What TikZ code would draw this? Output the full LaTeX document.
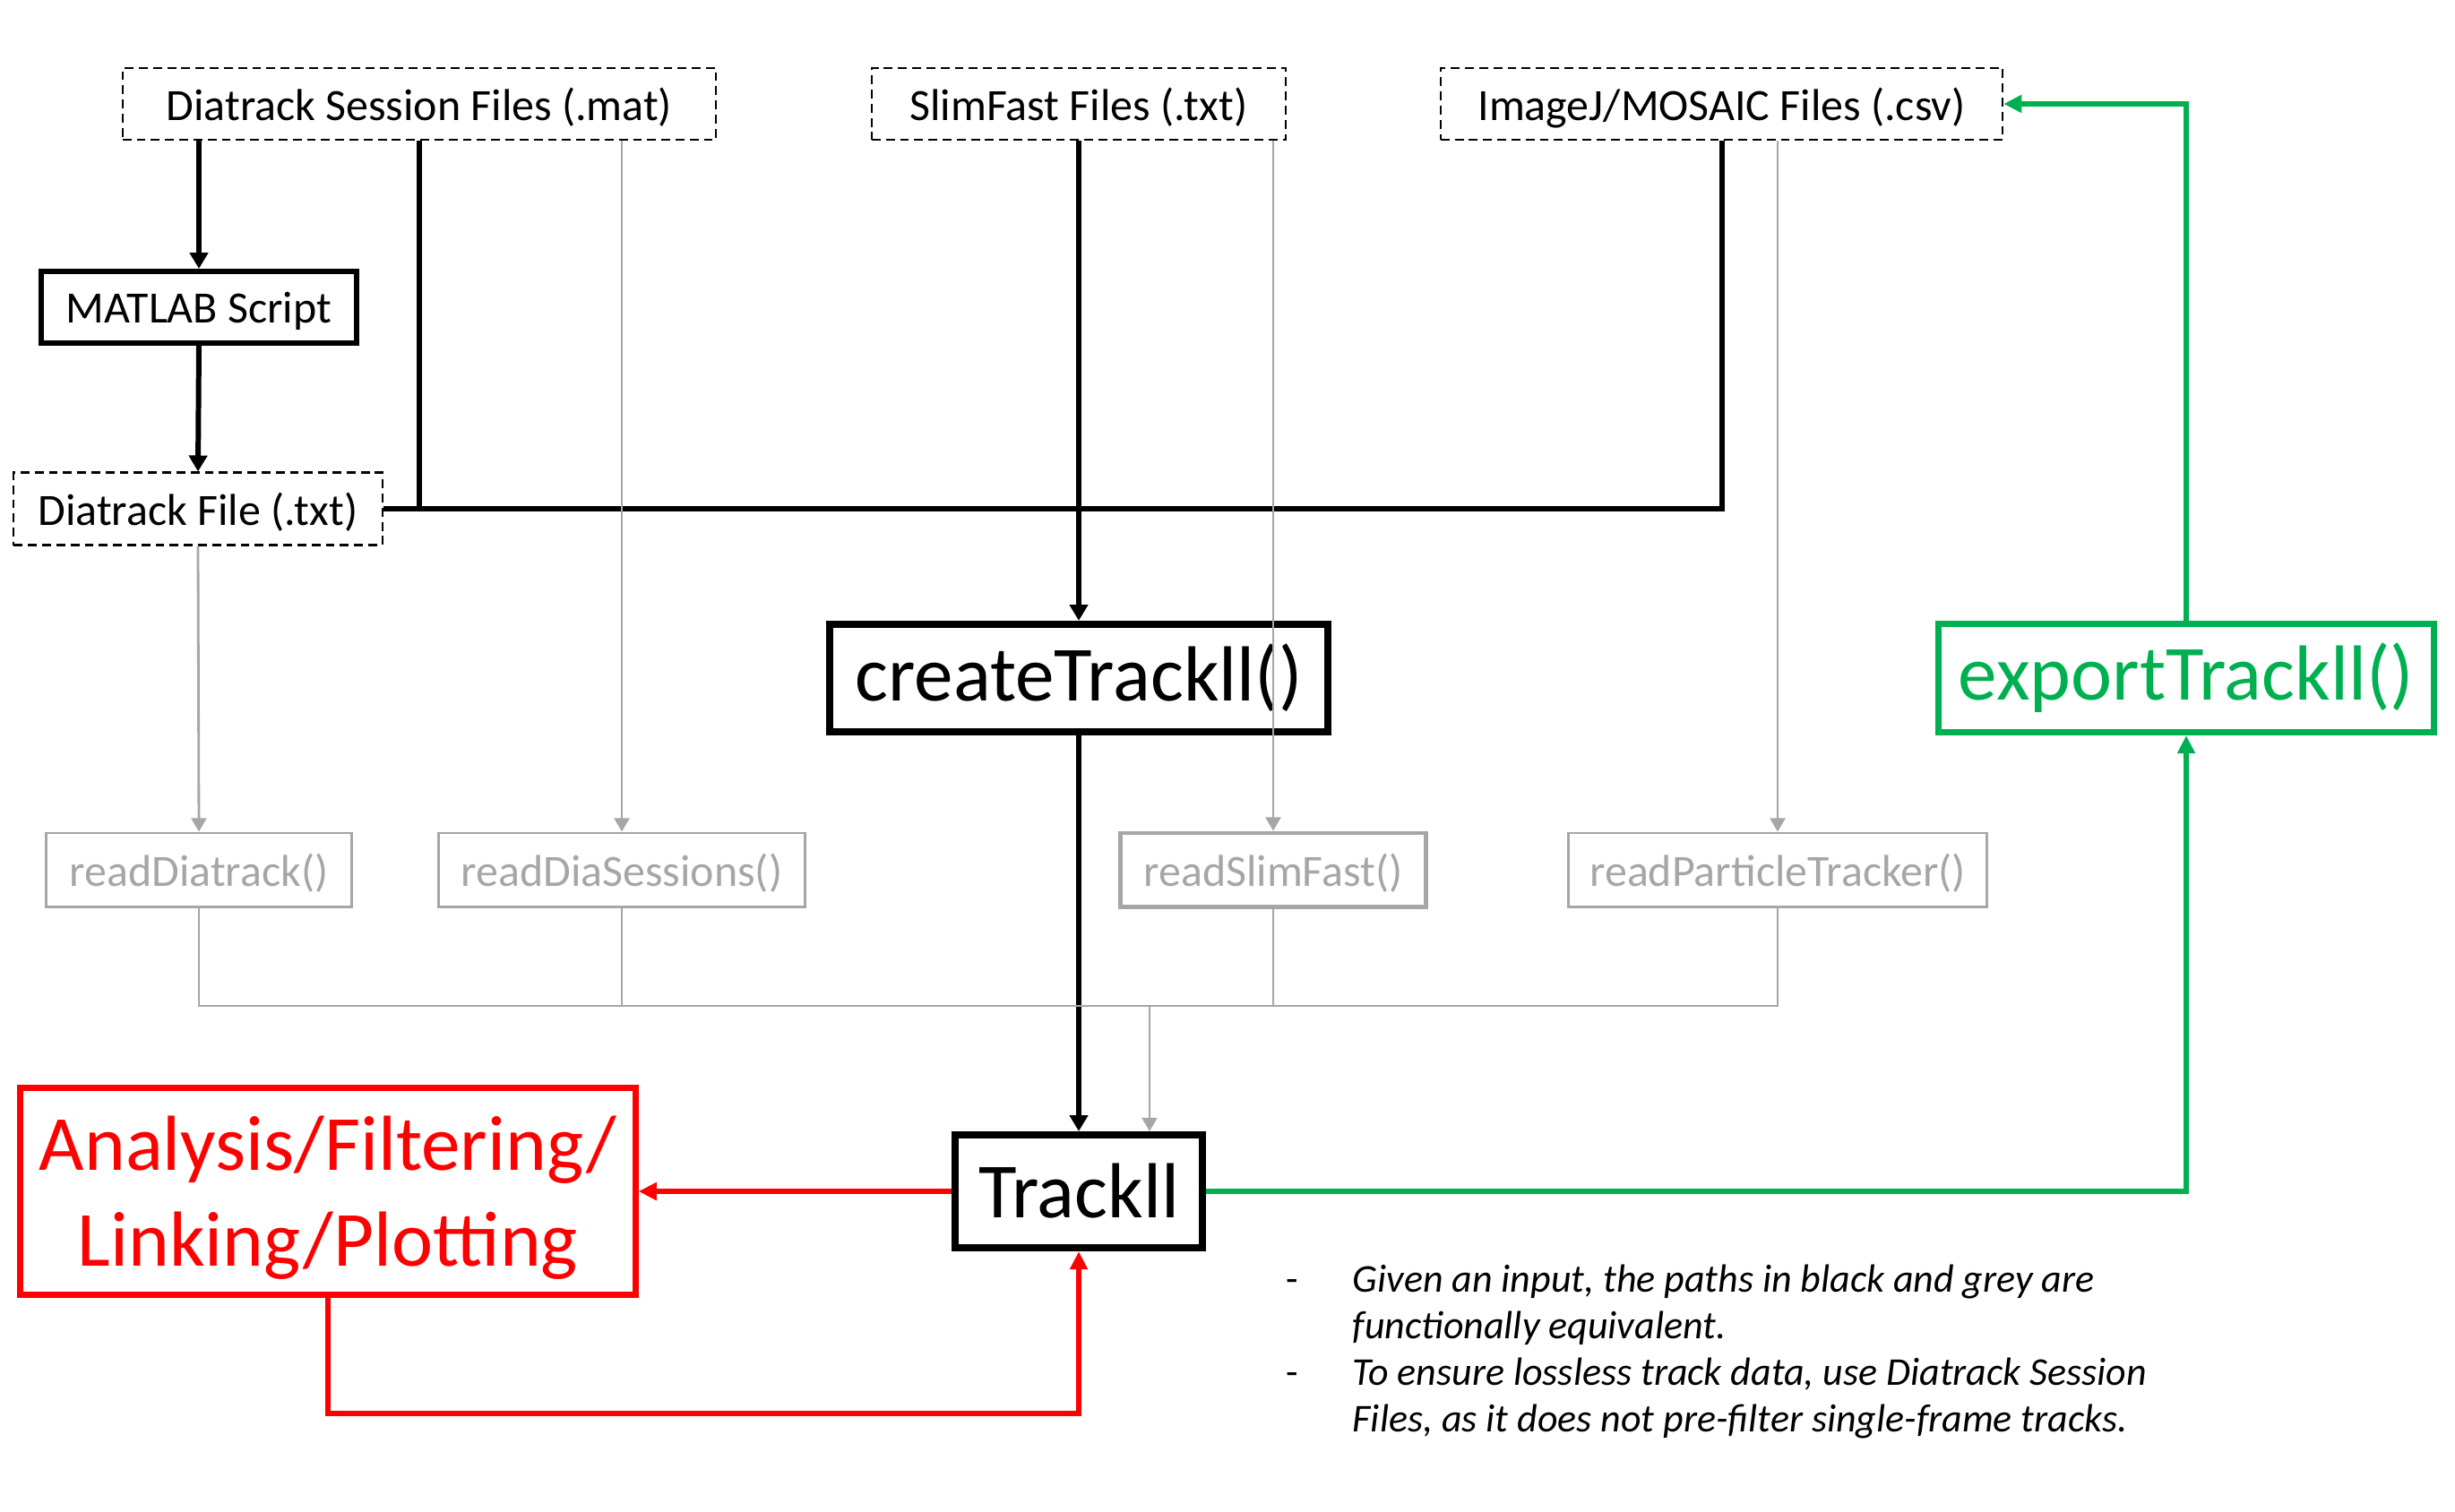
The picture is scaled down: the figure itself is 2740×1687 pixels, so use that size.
\documentclass[tikz,border=0pt]{standalone}
\usepackage{fontspec}
\setmainfont{Carlito}
\usetikzlibrary{arrows.meta}
\definecolor{gry}{HTML}{A6A6A6}
\definecolor{grn}{HTML}{00B050}
\definecolor{rd}{HTML}{FF0000}
\tikzset{
  filebox/.style={draw, dashed, dash pattern=on 2.8pt off 1.7pt, line width=0.6pt, inner sep=0pt, minimum height=0.80cm, text depth=0pt, font=\fontsize{14.2}{17}\selectfont},
  procbox/.style={draw, line width=1.7pt, inner sep=0pt, text depth=0pt, font=\fontsize{14.2}{17}\selectfont},
  bigbox/.style={draw, line width=2.3pt, inner sep=0pt, font=\fontsize{24.8}{30.5}\selectfont},
  readbox/.style={draw=gry, text=gry, line width=0.85pt, inner sep=0pt, minimum height=0.82cm, text depth=0pt, font=\fontsize{14.2}{17}\selectfont},
  blkline/.style={line width=1.7pt, line join=miter},
  blkarrow/.style={blkline, -{Triangle[length=5.1pt,width=5.7pt]}},
  gryline/.style={draw=gry, line width=0.8pt},
  gryarrow/.style={gryline, -{Triangle[length=4.3pt,width=4.8pt]}},
  redarrow/.style={draw=rd, line width=1.7pt, -{Triangle[length=5.7pt,width=5.4pt]}},
  grnarrow/.style={draw=grn, line width=1.7pt, -{Triangle[length=5.7pt,width=5.4pt]}},
}
\begin{document}
\begin{tikzpicture}[x=0.01cm,y=-0.01cm]
\path[use as bounding box] (0,0) rectangle (2740,1687);

% input files
\node[filebox, minimum width=6.62cm] (ses) at (468,116) {Diatrack Session Files (.mat)};
\node[filebox, minimum width=4.62cm] (slim) at (1204,116) {SlimFast Files (.txt)};
\node[filebox, minimum width=6.27cm] (imj) at (1921.5,116) {ImageJ/MOSAIC Files (.csv)};

\node[procbox, minimum width=3.52cm, minimum height=0.80cm] (matlab) at (222,343) {MATLAB Script};
\node[filebox, minimum width=4.11cm, minimum height=0.81cm] (dtf) at (221,568) {Diatrack File (.txt)};

% main functions
\node[bigbox, minimum width=5.56cm, minimum height=1.20cm] (create) at (1204,757) {createTrackll()};
\node[bigbox, draw=grn, text=grn, line width=2pt, minimum width=5.53cm, minimum height=1.21cm] (exp) at (2440,757) {exportTrackll()};

% readers
\node[readbox, minimum width=3.40cm] (rdt) at (222,971) {readDiatrack()};
\node[readbox, minimum width=4.09cm] (rds) at (694,971) {readDiaSessions()};
\node[readbox, line width=1.4pt, minimum width=3.41cm] (rsf) at (1421,971) {readSlimFast()};
\node[readbox, minimum width=4.67cm] (rpt) at (1984,971) {readParticleTracker()};

% central object
\node[bigbox, minimum width=2.75cm, minimum height=1.26cm] (trk) at (1204,1330) {Trackll};
\node[bigbox, draw=rd, text=rd, line width=2pt, minimum width=6.86cm, minimum height=2.31cm, align=center, text depth=0pt] (ana) at (366,1330) {Analysis/Filtering/\\Linking/Plotting};

% black paths
\draw[blkarrow] (matlab.north |- ses.south) -- (matlab.north);
\draw[blkarrow] (matlab.south) -- (dtf.north);
\draw[blkline] (ses.south) -- (ses.south |- dtf.east);
\draw[blkline] (dtf.east) -- (dtf.east -| imj.south) -- (imj.south);
\draw[blkarrow] (slim.south) -- (create.north);
\draw[blkarrow] (create.south) -- (trk.north);

% grey paths
\coordinate (bus) at (0,1123);
\coordinate (gdrop) at (1283,1123);
\draw[gryarrow] (dtf.south) -- (rdt.north);
\draw[gryarrow] (rds.north |- ses.south) -- (rds.north);
\draw[gryarrow] (rsf.north |- slim.south) -- (rsf.north);
\draw[gryarrow] (rpt.north |- imj.south) -- (rpt.north);
\draw[gryline] (rdt.south) -- (rdt.south |- bus) -- (rpt.south |- bus) -- (rpt.south);
\draw[gryline] (rds.south) -- (rds.south |- bus);
\draw[gryline] (rsf.south) -- (rsf.south |- bus);
\draw[gryarrow] (gdrop) -- (gdrop |- trk.north);

% red loop
\coordinate (rloop) at (0,1578);
\draw[redarrow] (trk.west) -- (ana.east);
\draw[redarrow] (ana.south) -- (ana.south |- rloop) -- (trk.south |- rloop) -- (trk.south);

% green export
\draw[grnarrow] (trk.east) -| (exp.south);
\draw[grnarrow] (exp.north) |- (imj.east);

% notes
\node[anchor=north west, inner sep=0pt, font=\fontsize{12.5}{14.8}\selectfont\itshape] (notes) at (1435,1405) {%
\begin{tabular}{@{}p{0.74cm}@{}l@{}}
\upshape - & Given an input, the paths in black and grey are\\
 & functionally equivalent.\\
\upshape - & To ensure lossless track data, use Diatrack Session\\
 & Files, as it does not pre-filter single-frame tracks.
\end{tabular}};
\end{tikzpicture}
\end{document}
